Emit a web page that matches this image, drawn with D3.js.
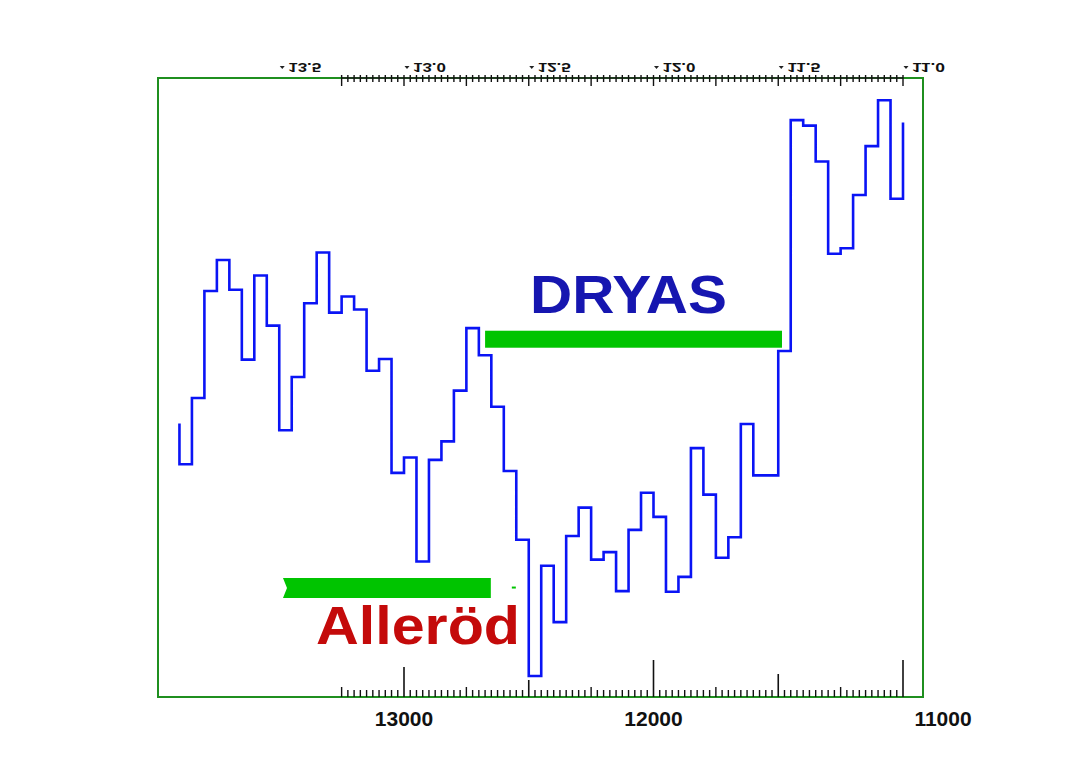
<!DOCTYPE html>
<html>
<head>
<meta charset="utf-8">
<script src="https://cdn.jsdelivr.net/npm/d3@7"></script>
<style>
  html, body { margin: 0; padding: 0; background: #ffffff; }
  svg { display: block; }
</style>
</head>
<body>
<svg id="chart" width="1080" height="768"></svg>
<script>
// ---- data ----
// years BP (step boundaries) and the proxy value (relative units, 0-100) of each step
const years = [13900, 13900, 13850, 13800, 13750, 13700, 13650, 13600, 13550, 13500,
  13450, 13400, 13350, 13300, 13250, 13200, 13150, 13100, 13050, 13000,
  12950, 12900, 12850, 12800, 12750, 12700, 12650, 12600, 12550, 12500,
  12450, 12400, 12350, 12300, 12250, 12200, 12150, 12100, 12050, 12000,
  11950, 11900, 11850, 11800, 11750, 11700, 11650, 11600, 11550, 11500,
  11450, 11400, 11350, 11300, 11250, 11200, 11150, 11100, 11050, 11000];
const values = [44.2, 37.6, 48.3, 65.6, 70.6, 65.8, 54.5, 68.1, 60.0, 43.1,
  51.7, 63.6, 71.8, 62.1, 64.7, 62.6, 52.7, 54.6, 36.2, 38.7,
  21.9, 38.3, 41.3, 49.5, 59.6, 55.2, 46.9, 36.5, 25.4, 3.4,
  21.2, 12.1, 26.0, 30.6, 22.2, 23.4, 17.1, 27.0, 33.0, 29.1,
  17.0, 19.4, 40.2, 32.7, 22.5, 25.8, 44.1, 35.8, 35.8, 55.9,
  93.2, 92.3, 86.5, 71.6, 72.5, 81.1, 89.0, 96.4, 80.5, 92.8];

// bottom axis labels (years BP)
const bottomLabels = [13000, 12000, 11000];
// top axis labels (thousand years)
const topLabelValues = [13500, 13000, 12500, 12000, 11500, 11000];
const topLabels = ["13.5", "13.0", "12.5", "12.0", "11.5", "11.0"];

// periods
const periodNames = ["DRYAS", "Alleröd"];
const periodStart = [12675, 13485];
const periodEnd = [11485, 12652];
const periodLevel = [57.8, 17.6];

// ---- layout ----
const svg = d3.select("#chart");
const frame = { left: 158, right: 923, top: 78, bottom: 697 };
const x = d3.scaleLinear().domain([13000, 11000]).range([404, 903]);
const y = d3.scaleLinear().domain([0, 100]).range([frame.bottom, frame.top]);

const FONT = "'Liberation Sans', Arial, Helvetica, sans-serif";
const frameGreen = "#1f8f1f";
const barGreen = "#00c400";

// frame
svg.append("rect")
  .attr("x", frame.left).attr("y", frame.top)
  .attr("width", frame.right - frame.left)
  .attr("height", frame.bottom - frame.top)
  .attr("fill", "none")
  .attr("stroke", frameGreen)
  .attr("stroke-width", 2);

// tick positions: every 25 years from 13250 to 11000
const tickYears = d3.range(13250, 10999, -25);

// bottom ruler ticks
function bottomLen(t) {
  if (t % 1000 === 0) return t === 13000 ? 30 : 37;
  if (t === 11500) return 23;
  if (t % 500 === 0) return 17;
  if (t % 250 === 0) return 10;
  return 7;
}
svg.append("g").selectAll("line")
  .data(tickYears)
  .join("line")
  .attr("x1", d => x(d)).attr("x2", d => x(d))
  .attr("y1", frame.bottom)
  .attr("y2", d => frame.bottom - bottomLen(d))
  .attr("stroke", "#111")
  .attr("stroke-width", d => d % 500 === 0 ? 1.6 : 1.4);

// top ruler ticks
svg.append("line")
  .attr("x1", x(13250)).attr("x2", x(11000))
  .attr("y1", frame.top).attr("y2", frame.top)
  .attr("stroke", "#222").attr("stroke-width", 1.5);
svg.append("g").selectAll("line")
  .data(tickYears)
  .join("line")
  .attr("x1", d => x(d)).attr("x2", d => x(d))
  .attr("y1", frame.top - 3)
  .attr("y2", d => frame.top + (d % 250 === 0 ? 8 : 4))
  .attr("stroke", "#111")
  .attr("stroke-width", 1.4);

// bottom labels
svg.append("g").selectAll("text")
  .data(bottomLabels)
  .join("text")
  .attr("x", d => x(d) + (d === 11000 ? 40 : 0))
  .attr("y", 726)
  .attr("text-anchor", "middle")
  .attr("font-family", FONT)
  .attr("font-weight", "bold")
  .attr("font-size", 21)
  .attr("fill", "#111")
  .text(d => d);

// top labels (mirrored vertically, as in the original)
const tg = svg.append("g").selectAll("g")
  .data(topLabelValues)
  .join("g")
  .attr("transform", d => `translate(${x(d) + 3},63)`);
tg.append("path")
  .attr("d", "M-2.5,3 L0,6 L2.5,3 Z")
  .attr("fill", "#222");
tg.append("text")
  .attr("transform", "translate(6,0) scale(1,-1)")
  .attr("font-family", FONT)
  .attr("font-weight", "bold")
  .attr("font-size", 13)
  .attr("fill", "#111")
  .attr("textLength", 33)
  .attr("lengthAdjust", "spacingAndGlyphs")
  .text((d, i) => topLabels[i]);

// period bars
// DRYAS
svg.append("rect")
  .attr("x", x(periodStart[0]))
  .attr("y", y(periodLevel[0]) - 8.5)
  .attr("width", x(periodEnd[0]) - x(periodStart[0]))
  .attr("height", 17)
  .attr("fill", barGreen);
// Alleröd (with notched left end)
{
  const x0 = x(periodStart[1]), x1 = x(periodEnd[1]);
  const yc = y(periodLevel[1]), h = 10;
  svg.append("path")
    .attr("d", `M${x0},${yc - h} L${x1},${yc - h} L${x1},${yc + h} L${x0},${yc + h} L${x0 + 4},${yc} Z`)
    .attr("fill", barGreen);
  svg.append("rect")
    .attr("x", x1 + 21).attr("y", yc - 1.5)
    .attr("width", 4).attr("height", 2)
    .attr("fill", barGreen);
}

// step line
const line = d3.line()
  .x(d => x(d[0]))
  .y(d => y(d[1]))
  .curve(d3.curveStepAfter);
svg.append("path")
  .datum(years.map((yr, i) => [yr, values[i]]))
  .attr("d", line)
  .attr("fill", "none")
  .attr("stroke", "#0a14f5")
  .attr("stroke-width", 2.6)
  .attr("stroke-linejoin", "miter");

// period labels
svg.append("text")
  .attr("x", 530).attr("y", 313)
  .attr("font-family", FONT)
  .attr("font-weight", "bold")
  .attr("font-size", 54)
  .attr("fill", "#1616b0")
  .attr("textLength", 197)
  .attr("lengthAdjust", "spacingAndGlyphs")
  .text(periodNames[0]);
svg.append("text")
  .attr("x", 316).attr("y", 644)
  .attr("font-family", FONT)
  .attr("font-weight", "bold")
  .attr("font-size", 54)
  .attr("fill", "#c40a0a")
  .attr("textLength", 204)
  .attr("lengthAdjust", "spacingAndGlyphs")
  .text(periodNames[1]);
</script>
</body>
</html>
